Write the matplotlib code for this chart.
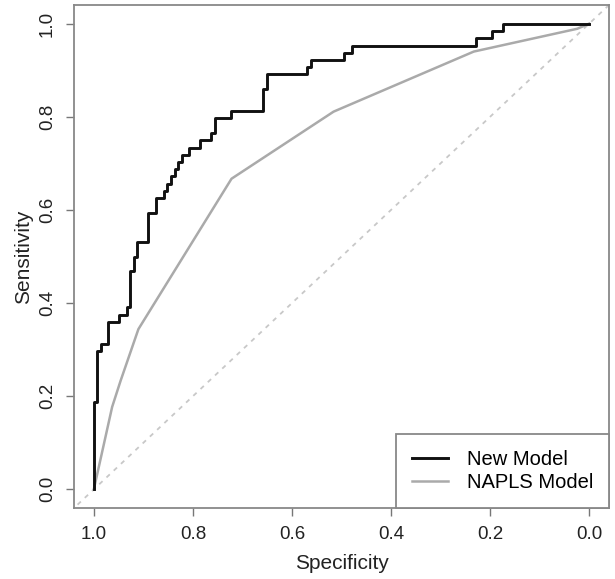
import matplotlib
matplotlib.use("Agg")
import matplotlib.pyplot as plt

plt.rcParams['font.family'] = ['Liberation Sans', 'DejaVu Sans']

# New Model ROC corners: specificity where the curve rises, sensitivity it rises to
new_spec = [1.0, 1.0, 0.993, 0.986, 0.971, 0.949, 0.934, 0.927, 0.918, 0.912,
            0.890, 0.875, 0.859, 0.852, 0.844, 0.837, 0.830, 0.821, 0.807,
            0.786, 0.763, 0.755, 0.724, 0.658, 0.651, 0.570, 0.562, 0.494,
            0.479, 0.228, 0.197, 0.174, 0.0]
new_sens = [0.0, 0.1875, 0.297, 0.312, 0.359, 0.375, 0.391, 0.469, 0.500, 0.531,
            0.594, 0.625, 0.641, 0.656, 0.672, 0.688, 0.703, 0.719, 0.734,
            0.750, 0.766, 0.797, 0.812, 0.859, 0.891, 0.906, 0.922, 0.938,
            0.953, 0.969, 0.984, 1.0, 1.0]

# NAPLS Model ROC points
naples_spec = [1.0, 0.963, 0.946, 0.910, 0.722, 0.516, 0.233, 0.024, 0.0]
naples_sens = [0.0, 0.177, 0.233, 0.344, 0.667, 0.811, 0.940, 0.989, 1.0]

fig = plt.figure(figsize=(6.15, 5.79), dpi=100)
ax = fig.add_axes([74/615, 1-508/579, 535/615, 503/579])

ax.axline((1.0, 0.0), (0.0, 1.0), color='#c8c8c8', lw=1.3, ls=(0, (2.5, 3)))
ax.plot(naples_spec, naples_sens, color='#aaaaaa', lw=1.8, label='NAPLS Model')
ax.step(new_spec, new_sens, where='post', color='#111111', lw=2.1, label='New Model')

ax.set_xlim(1.04, -0.04)
ax.set_ylim(-0.04, 1.04)
ticks = [0.0, 0.2, 0.4, 0.6, 0.8, 1.0]
ax.set_xticks(ticks)
ax.set_yticks(ticks)
ax.set_xticklabels(['%.1f' % t for t in ticks])
ax.set_yticklabels(['%.1f' % t for t in ticks], rotation=90, va='center')
ax.tick_params(axis='both', length=6, width=1, color='#777777', labelsize=13.5, colors='#222222')
ax.tick_params(axis='x', pad=7)
ax.tick_params(axis='y', pad=7)
for s in ax.spines.values():
    s.set_color('#888888')
    s.set_linewidth(1.3)

ax.set_xlabel('Specificity', fontsize=15, color='#222222')
ax.set_ylabel('Sensitivity', fontsize=15, color='#222222')
ax.xaxis.set_label_coords(0.5, -0.092)
ax.yaxis.set_label_coords(-0.076, 0.5)

h, l = ax.get_legend_handles_labels()
leg = ax.legend(h[::-1], l[::-1], loc='lower right', borderaxespad=0, fancybox=False,
                edgecolor='#888888', fontsize=14.5, handlelength=1.8, handletextpad=0.9,
                borderpad=0.8, labelspacing=0.2, framealpha=1)
leg.get_frame().set_linewidth(1.3)

fig.savefig('out.png', dpi=100)
